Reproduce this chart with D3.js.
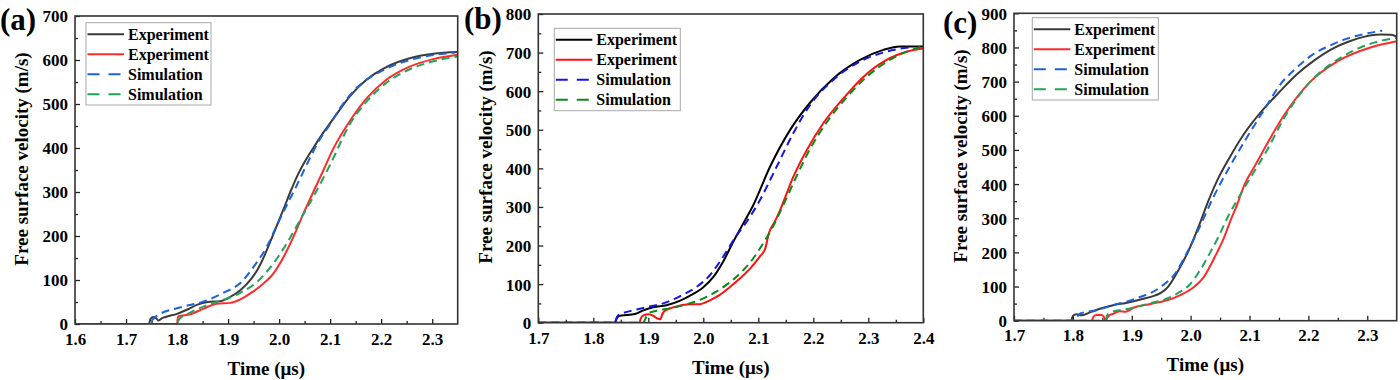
<!DOCTYPE html>
<html>
<head>
<meta charset="utf-8">
<script src="https://cdn.jsdelivr.net/npm/d3@7"></script>
<style>
  html, body { margin: 0; padding: 0; background: #fff; }
  svg text { font-family: "Liberation Serif", "Times New Roman", serif; font-weight: bold; fill: #000; }
</style>
</head>
<body>
<svg id="chart" width="1400" height="380"></svg>
<script>
// ---------------- DATA ----------------
const seriesNames = ["Experiment", "Experiment", "Simulation", "Simulation"];
const xLabel = "Time (\u03bcs)";
const yLabel = "Free surface velocity (m/s)";
const panelLetters = ["(a)", "(b)", "(c)"];

// Panel (a)
const xTicksA = [1.6, 1.7, 1.8, 1.9, 2.0, 2.1, 2.2, 2.3];
const yTicksA = [0, 100, 200, 300, 400, 500, 600, 700];
const aExp1 = [[1.6,0],[1.745,0],[1.748,12],[1.753,16],[1.759,13],[1.764,8],[1.770,13],[1.780,17],[1.800,23],[1.820,33],[1.840,44],[1.860,50],[1.885,52],[1.905,62],[1.925,78],[1.945,102],[1.957,122],[1.970,152],[1.983,188],[1.996,225],[2.009,262],[2.022,300],[2.035,335],[2.050,368],[2.067,400],[2.085,432],[2.106,466],[2.139,518],[2.171,555],[2.21,584],[2.256,604],[2.302,614],[2.35,618]];
const aExp2 = [[1.6,0],[1.800,0],[1.802,17],[1.826,22],[1.852,35],[1.878,46],[1.904,48],[1.924,56],[1.944,70],[1.963,86],[1.989,115],[2.009,153],[2.028,198],[2.048,252],[2.067,300],[2.087,350],[2.106,398],[2.139,462],[2.171,512],[2.21,555],[2.256,585],[2.302,602],[2.35,612]];
const aSim1 = [[1.6,0],[1.745,0],[1.752,10],[1.760,18],[1.807,38],[1.852,51],[1.891,71],[1.924,93],[1.95,130],[1.976,176],[1.996,225],[2.015,270],[2.035,316],[2.054,362],[2.08,420],[2.1,454],[2.119,490],[2.158,543],[2.204,577],[2.256,600],[2.328,615],[2.345,617]];
const aSim2 = [[1.6,0],[1.800,0],[1.803,9],[1.826,26],[1.859,43],[1.891,55],[1.924,71],[1.957,96],[1.989,138],[2.015,183],[2.041,236],[2.0675,290],[2.1,362],[2.139,455],[2.171,505],[2.21,548],[2.256,579],[2.302,597],[2.35,608]];

// Panel (b)
const xTicksB = [1.7, 1.8, 1.9, 2.0, 2.1, 2.2, 2.3, 2.4];
const yTicksB = [0, 100, 200, 300, 400, 500, 600, 700, 800];
const bExp1 = [[1.7,0],[1.839,0],[1.843,12],[1.848,18],[1.861,20],[1.879,24],[1.891,32],[1.909,40],[1.933,45],[1.958,57],[1.976,70],[2.0,92],[2.018,118],[2.036,158],[2.0545,210],[2.073,258],[2.091,305],[2.1213,404],[2.1576,499],[2.194,570],[2.2364,633],[2.2849,681],[2.3273,707],[2.3576,716],[2.4,716]];
const bExp2 = [[1.7,0],[1.884,0],[1.886,10],[1.891,19],[1.90,22],[1.909,18],[1.916,11],[1.922,9],[1.925,20],[1.928,28],[1.933,33],[1.9515,42],[1.97,47],[1.994,48],[2.012,58],[2.03,72],[2.048,92],[2.067,115],[2.085,140],[2.103,172],[2.112,190],[2.12,235],[2.13,262],[2.139,290],[2.1636,378],[2.188,447],[2.2182,517],[2.2545,581],[2.2909,637],[2.3333,681],[2.3697,702],[2.4,711]];
const bSim1 = [[1.7,0],[1.839,0],[1.843,15],[1.848,22],[1.861,28],[1.897,40],[1.927,50],[1.958,69],[1.988,93],[2.012,123],[2.036,171],[2.061,227],[2.079,262],[2.1,310],[2.1333,404],[2.1636,491],[2.194,564],[2.236,629],[2.285,677],[2.327,700],[2.357,710],[2.376,714]];
const bSim2 = [[1.7,0],[1.891,0],[1.894,8],[1.90,24],[1.915,31],[1.939,37],[1.97,48],[1.994,59],[2.018,76],[2.042,98],[2.067,128],[2.091,167],[2.109,206],[2.127,250],[2.1455,305],[2.1697,380],[2.194,450],[2.2242,519],[2.2606,584],[2.297,637],[2.339,681],[2.4,717]];

// Panel (c)
const xTicksC = [1.7, 1.8, 1.9, 2.0, 2.1, 2.2, 2.3];
const yTicksC = [0, 100, 200, 300, 400, 500, 600, 700, 800, 900];
const cExp1 = [[1.7,0],[1.797,0],[1.800,14],[1.806,19],[1.815,16],[1.83,25],[1.85,37],[1.87,46],[1.89,52],[1.915,62],[1.94,74],[1.95,82],[1.962,100],[1.98,150],[1.997,207],[2.015,282],[2.03,350],[2.045,410],[2.067,480],[2.09,545],[2.124,620],[2.15,668],[2.181,722],[2.21,762],[2.243,798],[2.27,818],[2.294,831],[2.322,838],[2.34,837],[2.35,832]];
const cExp2 = [[1.7,0],[1.832,0],[1.835,12],[1.84,17],[1.849,17],[1.853,10],[1.856,0],[1.858,8],[1.863,17],[1.87,21],[1.88,28],[1.889,26],[1.903,38],[1.9315,49],[1.96,60],[1.9825,75],[2.005,98],[2.022,127],[2.042,190],[2.056,240],[2.067,290],[2.079,340],[2.0918,400],[2.108,450],[2.124,500],[2.158,600],[2.2034,700],[2.25,760],[2.3054,800],[2.35,818]];
const cSim1 = [[1.7,0],[1.80,0],[1.81,17],[1.8125,21],[1.841,31],[1.8635,43],[1.909,66],[1.9485,98],[1.974,139],[1.994,200],[2.0137,268],[2.039,363],[2.07,462],[2.0957,537],[2.124,615],[2.1524,692],[2.181,742],[2.209,781],[2.2374,806],[2.2658,826],[2.294,839],[2.3253,849]];
const cSim2 = [[1.7,0],[1.855,0],[1.858,15],[1.8635,24],[1.897,36],[1.9315,51],[1.96,65],[1.9825,85],[1.997,103],[2.015,145],[2.0333,200],[2.048,248],[2.062,300],[2.078,350],[2.095,400],[2.13,500],[2.161,600],[2.2034,700],[2.25,765],[2.2884,800],[2.32,818],[2.35,828]];

// ---------------- LAYOUT / STYLE ----------------
const panels = [
  { letter: panelLetters[0], letterX: 0, letterY: 30,
    L: 75, R: 457.7, T: 16, B: 324, xDom: [1.6, 2.35], yDom: [0, 700], xTicks: xTicksA, yTicks: yTicksA,
    series: [aExp1, aExp2, aSim1, aSim2],
    colors: ["#3a3a3a", "#ff2b2b", "#1d62d8", "#22a35a"],
    legend: { x: 86, y: 22.7, w: 125, h: 82.3 },
    yTitle: { x: 21, y: 159 }, xTitleY: 368, xLabY: 339 },
  { letter: panelLetters[1], letterX: 464, letterY: 29,
    L: 538.3, R: 923.3, T: 14, B: 322.7, xDom: [1.7, 2.4], yDom: [0, 800], xTicks: xTicksB, yTicks: yTicksB,
    series: [bExp1, bExp2, bSim1, bSim2],
    colors: ["#000000", "#ff1010", "#1515e6", "#0b8a14"],
    legend: { x: 554.3, y: 28.3, w: 126, h: 82.4 },
    yTitle: { x: 485, y: 157 }, xTitleY: 367, xLabY: 338 },
  { letter: panelLetters[2], letterX: 943, letterY: 33,
    L: 1014, R: 1396.7, T: 13.3, B: 320.7, xDom: [1.7, 2.35], yDom: [0, 900], xTicks: xTicksC, yTicks: yTicksC,
    series: [cExp1, cExp2, cSim1, cSim2],
    colors: ["#3a3a3a", "#ff2b2b", "#1d62d8", "#22a35a"],
    legend: { x: 1032.3, y: 17.7, w: 126, h: 82.3 },
    yTitle: { x: 960, y: 156 }, xTitleY: 364, xLabY: 335 }
];
const dashes = [null, null, "8,5", "8,5"];

const svg = d3.select("#chart");

panels.forEach(p => {
  const x = d3.scaleLinear().domain(p.xDom).range([p.L, p.R]);
  const y = d3.scaleLinear().domain(p.yDom).range([p.B, p.T]);
  const g = svg.append("g");

  const clipId = "clip" + p.letter.replace(/[()]/g, "");
  svg.append("clipPath").attr("id", clipId).append("rect")
    .attr("x", p.L).attr("y", p.T - 2).attr("width", p.R - p.L).attr("height", p.B - p.T + 2);

  // minor ticks
  const xMinor = d3.range(p.xDom[0] + 0.05, p.xDom[1] + 1e-9, 0.1).filter(v => v < p.xDom[1] - 1e-6);
  const yMinor = d3.range(p.yDom[0] + 50, p.yDom[1], 100);
  g.append("g").attr("transform", `translate(0,${p.B})`)
    .call(d3.axisBottom(x).tickValues(xMinor).tickSize(-3).tickFormat(""))
    .call(a => a.select(".domain").remove())
    .call(a => a.selectAll("line").attr("stroke", "#222").attr("stroke-width", 1.3));
  g.append("g").attr("transform", `translate(${p.L},0)`)
    .call(d3.axisLeft(y).tickValues(yMinor).tickSize(-3).tickFormat(""))
    .call(a => a.select(".domain").remove())
    .call(a => a.selectAll("line").attr("stroke", "#222").attr("stroke-width", 1.3));

  // major ticks
  const xa = g.append("g").attr("transform", `translate(0,${p.B})`)
    .call(d3.axisBottom(x).tickValues(p.xTicks).tickSize(-5).tickPadding(0).tickFormat(d3.format(".1f")));
  xa.select(".domain").remove();
  xa.attr("font-family", null).attr("font-size", null);
  xa.selectAll("line").attr("stroke", "#222").attr("stroke-width", 1.3);
  xa.selectAll("text").attr("y", p.xLabY - p.B).attr("dy", "0.35em")
    .style("font-size", "17px").attr("fill", "#000");

  const ya = g.append("g").attr("transform", `translate(${p.L},0)`)
    .call(d3.axisLeft(y).tickValues(p.yTicks).tickSize(-5).tickPadding(7).tickFormat(d3.format("d")));
  ya.select(".domain").remove();
  ya.attr("font-family", null).attr("font-size", null);
  ya.selectAll("line").attr("stroke", "#222").attr("stroke-width", 1.3);
  ya.selectAll("text").attr("x", -7).attr("dy", "0.35em")
    .style("font-size", "17px").attr("fill", "#000");

  // lines
  const line = d3.line().x(d => x(d[0])).y(d => y(d[1])).curve(d3.curveMonotoneX);
  [0, 1, 2, 3].forEach(i => {
    g.append("path").datum(p.series[i])
      .attr("clip-path", `url(#${clipId})`)
      .attr("d", line)
      .attr("fill", "none")
      .attr("stroke", p.colors[i])
      .attr("stroke-width", 2)
      .attr("stroke-dasharray", dashes[i])
      .attr("stroke-linejoin", "round");
  });

  // frame
  g.append("rect").attr("x", p.L).attr("y", p.T).attr("width", p.R - p.L).attr("height", p.B - p.T)
    .attr("fill", "none").attr("stroke", "#333").attr("stroke-width", 1.6);

  // legend
  const lg = g.append("g");
  lg.append("rect").attr("x", p.legend.x).attr("y", p.legend.y).attr("width", p.legend.w).attr("height", p.legend.h)
    .attr("fill", "#fff").attr("stroke", "#a8a8a8").attr("stroke-width", 1);
  seriesNames.forEach((name, i) => {
    const ry = p.legend.y + 11.5 + i * 20;
    lg.append("line").attr("x1", p.legend.x + 1.5).attr("x2", p.legend.x + 38).attr("y1", ry).attr("y2", ry)
      .attr("stroke", p.colors[i]).attr("stroke-width", 2).attr("stroke-dasharray", dashes[i] ? "12,9" : null);
    lg.append("text").attr("x", p.legend.x + 42).attr("y", ry).attr("dy", "0.35em")
      .style("font-size", "16px").text(name);
  });

  // titles
  g.append("text").attr("x", (p.L + p.R) / 2).attr("y", p.xTitleY).attr("dy", "0.35em")
    .attr("text-anchor", "middle").style("font-size", "19px").text(xLabel);
  g.append("text").attr("transform", `translate(${p.yTitle.x},${p.yTitle.y}) rotate(-90)`)
    .attr("dy", "0.35em").attr("text-anchor", "middle").style("font-size", "19px").text(yLabel);

  // panel letter
  g.append("text").attr("x", p.letterX).attr("y", p.letterY).style("font-size", "31px").text(p.letter);
});
</script>
</body>
</html>
